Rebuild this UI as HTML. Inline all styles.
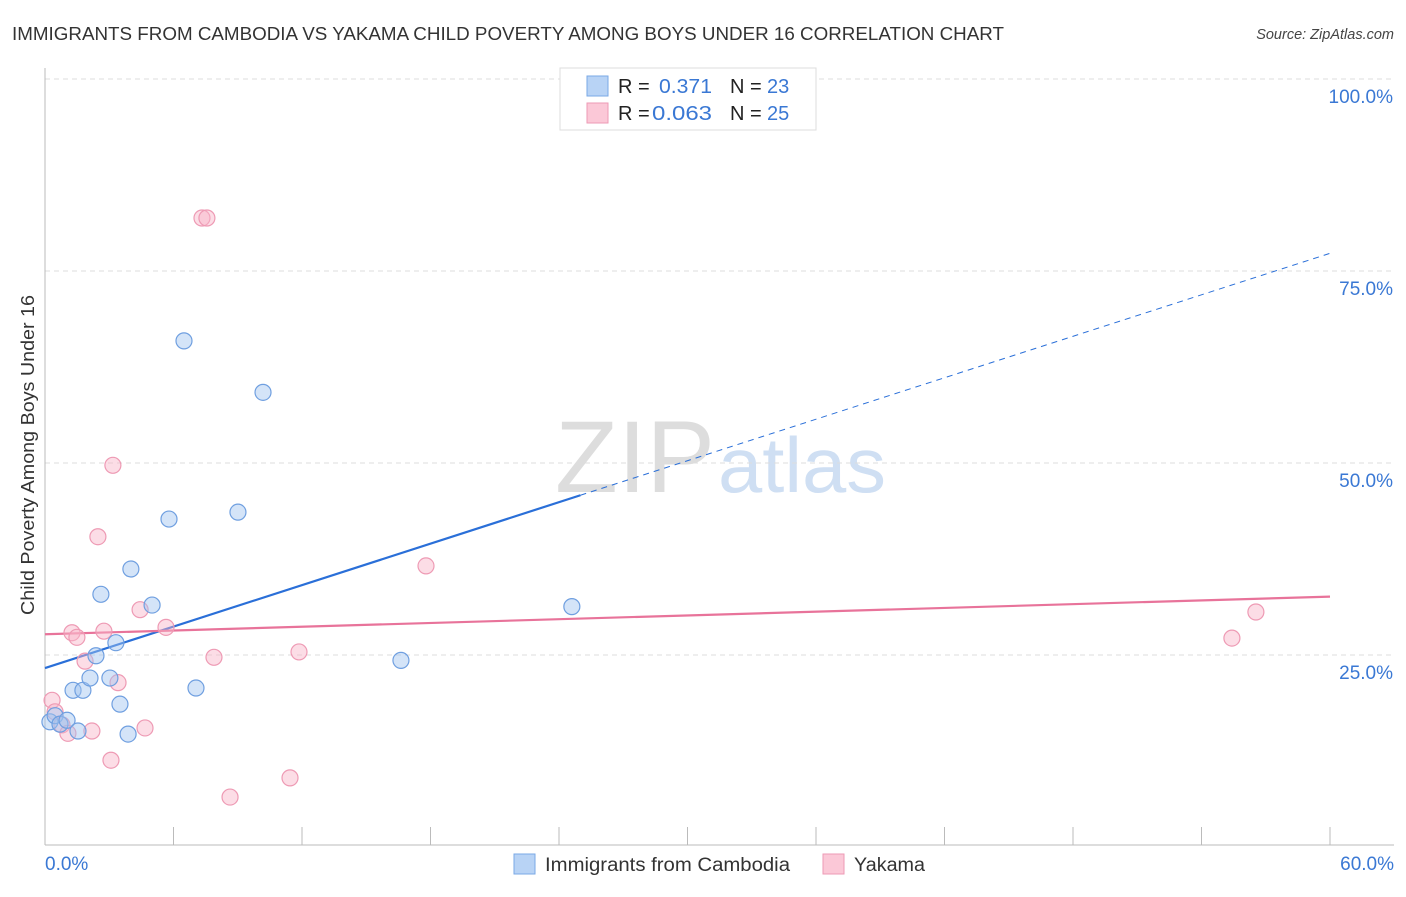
<!DOCTYPE html>
<html><head><meta charset="utf-8"><style>
body{margin:0;background:#fff;font-family:"Liberation Sans",sans-serif;}
svg text{font-family:"Liberation Sans",sans-serif;}
</style></head><body>
<svg id="chart" width="1406" height="892" xmlns="http://www.w3.org/2000/svg">
<text x="12" y="40" font-size="18" fill="#333" textLength="992" lengthAdjust="spacingAndGlyphs">IMMIGRANTS FROM CAMBODIA VS YAKAMA CHILD POVERTY AMONG BOYS UNDER 16 CORRELATION CHART</text>
<text x="1394" y="39" font-size="14.5" fill="#444" text-anchor="end" font-style="italic">Source: ZipAtlas.com</text>
<text x="555" y="492" font-size="102" fill="#ddd" textLength="160" lengthAdjust="spacingAndGlyphs" font-family="Liberation Serif">ZIP</text>
<text x="718" y="492" font-size="78" fill="#cfdff3" textLength="168" lengthAdjust="spacingAndGlyphs">atlas</text>
<g id="grid"></g><g id="axes"></g><g id="trends"></g><g id="points"></g>
<text transform="translate(34,455) rotate(-90)" font-size="18" fill="#333" text-anchor="middle" textLength="320" lengthAdjust="spacingAndGlyphs">Child Poverty Among Boys Under 16</text>
<g>
<rect x="560" y="68" width="256" height="62" fill="#fff" stroke="#ddd"/>
<rect x="587" y="76" width="21" height="20" fill="#b8d3f5" stroke="#7aa8e6"/>
<rect x="587" y="103" width="21" height="20" fill="#fbc8d7" stroke="#ee9ab4"/>
<text x="618" y="93" font-size="20" fill="#222">R =</text><text x="659" y="93" font-size="20" fill="#3a78d4" textLength="53" lengthAdjust="spacingAndGlyphs">0.371</text>
<text x="730" y="93" font-size="20" fill="#222">N =</text><text x="767" y="93" font-size="20" fill="#3a78d4">23</text>
<text x="618" y="120" font-size="20" fill="#222">R =</text><text x="652" y="120" font-size="20" fill="#3a78d4" textLength="60" lengthAdjust="spacingAndGlyphs">0.063</text>
<text x="730" y="120" font-size="20" fill="#222">N =</text><text x="767" y="120" font-size="20" fill="#3a78d4">25</text>
</g>
<g>
<rect x="514" y="854" width="21" height="20" fill="#b8d3f5" stroke="#7aa8e6"/>
<text x="545" y="871" font-size="19" fill="#333" textLength="245" lengthAdjust="spacingAndGlyphs">Immigrants from Cambodia</text>
<rect x="823" y="854" width="21" height="20" fill="#fbc8d7" stroke="#ee9ab4"/>
<text x="854" y="871" font-size="19" fill="#333" textLength="71" lengthAdjust="spacingAndGlyphs">Yakama</text>
</g>
</svg>
<script>
const blueX=[0.23,0.47,0.70,1.03,1.31,1.54,1.77,2.10,2.38,2.61,3.03,3.31,3.50,3.88,4.01,5.00,5.79,6.49,7.05,9.01,10.18,16.62,24.60];
const blueY=[16.3,17.1,16.0,16.5,20.4,15.1,20.4,22.0,24.9,32.9,22.0,26.6,18.6,14.7,36.2,31.5,42.7,65.9,20.7,43.6,59.2,24.3,31.3];
const pinkX=[0.33,0.47,0.79,1.07,1.26,1.49,1.87,2.19,2.47,2.75,3.08,3.17,3.41,4.44,4.67,5.65,7.33,7.56,7.89,8.64,11.44,11.86,17.79,55.42,56.54];
const pinkY=[19.1,17.6,15.9,14.8,27.9,27.3,24.2,15.1,40.4,28.1,11.3,49.7,21.4,30.9,15.5,28.6,81.9,81.9,24.7,6.5,9.0,25.4,36.6,27.2,30.6];
const yTicks=[25,50,75,100];
const xTicks=[0,6,12,18,24,30,36,42,48,54,60];
const blueTrend=[23.3,77.3];
const blueSolidEnd=25;
const pinkTrend=[27.7,32.6];
const NS="http://www.w3.org/2000/svg";
const sx=v=>45+v/60*1285, sy=v=>847-v/100*768;
function mk(t,a,p){const e=document.createElementNS(NS,t);for(const k in a)e.setAttribute(k,a[k]);p.appendChild(e);return e;}
const grid=document.getElementById('grid'),axes=document.getElementById('axes'),tr=document.getElementById('trends'),pts=document.getElementById('points');
yTicks.forEach(v=>{
 const l=mk('line',{x1:45,x2:1394,y1:sy(v),y2:sy(v),stroke:'#ddd','stroke-dasharray':'5,4'},grid);
 
 
 const t=mk('text',{x:1393,y:sy(v)+24,'font-size':19,fill:'#3a78d4','text-anchor':'end'},grid);
 t.textContent=v.toFixed(1)+'%';
 
 
});
const ax=mk('line',{x1:45,x2:1394,y1:845,y2:845,stroke:'#bbb'},axes);


const ay=mk('line',{x1:45,x2:45,y1:68,y2:845,stroke:'#bbb'},axes);


xTicks.forEach(v=>{
 const l=mk('line',{x1:sx(v),x2:sx(v),y1:827,y2:845,stroke:'#bbb'},axes);
 
 
});
[[0,'start',45],[60,'end',1394]].forEach(([v,a,x])=>{
 const t=mk('text',{x:x,y:870,'font-size':19,fill:'#3a78d4','text-anchor':a},axes);
 t.textContent=v.toFixed(1)+'%';
 
 
});
const by=x=>blueTrend[0]+(blueTrend[1]-blueTrend[0])*x/60;
let l1=mk('line',{x1:sx(0),y1:sy(by(0)),x2:sx(blueSolidEnd),y2:sy(by(blueSolidEnd)),stroke:'#2a6fd8','stroke-width':2.2},tr);


let l2=mk('line',{x1:sx(blueSolidEnd),y1:sy(by(blueSolidEnd)),x2:sx(60),y2:sy(by(60)),stroke:'#2a6fd8','stroke-width':1,'stroke-dasharray':'6,5'},tr);


let l3=mk('line',{x1:sx(0),y1:sy(pinkTrend[0]),x2:sx(60),y2:sy(pinkTrend[1]),stroke:'#e8739a','stroke-width':2.2},tr);


pinkX.forEach((x,i)=>{
 const c=mk('circle',{cx:sx(x),cy:sy(pinkY[i]),r:8,fill:'rgba(248,180,200,0.45)',stroke:'#ee9ab4','stroke-width':1.2},pts);
 
 
});
blueX.forEach((x,i)=>{
 const c=mk('circle',{cx:sx(x),cy:sy(blueY[i]),r:8,fill:'rgba(160,195,240,0.45)',stroke:'#6f9fe0','stroke-width':1.2},pts);
 
 
});
</script>
</body></html>
